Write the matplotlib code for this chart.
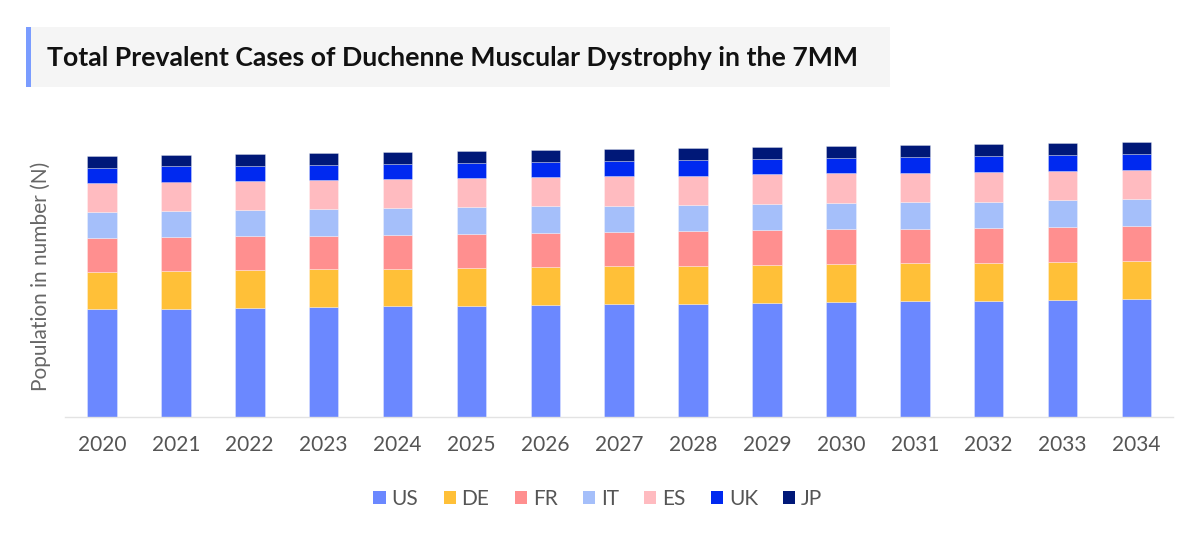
import matplotlib
matplotlib.use("Agg")
import matplotlib.pyplot as plt
from matplotlib.patches import Rectangle, Patch
import numpy as np

plt.rcParams['font.family'] = ['Lato', 'DejaVu Sans']

years = [str(y) for y in range(2020, 2035)]
countries = ["US", "DE", "FR", "IT", "ES", "UK", "JP"]

US = [10750, 10800, 10880, 10920, 11020, 11080, 11150, 11220, 11280, 11380, 11480, 11520, 11580, 11650, 11720]
DE = [3730, 3800, 3770, 3800, 3760, 3800, 3800, 3800, 3800, 3800, 3800, 3830, 3800, 3830, 3830]
FR = [3400, 3370, 3370, 3360, 3370, 3370, 3400, 3430, 3470, 3440, 3440, 3400, 3470, 3440, 3500]
IT = [2600, 2600, 2630, 2640, 2670, 2670, 2670, 2630, 2630, 2660, 2660, 2700, 2630, 2700, 2670]
ES = [2870, 2930, 2900, 2900, 2930, 2900, 2930, 2940, 2900, 2940, 2940, 2930, 3000, 2960, 2960]
UK = [1530, 1530, 1530, 1530, 1530, 1560, 1530, 1530, 1570, 1560, 1560, 1600, 1570, 1600, 1600]
JP = [1170, 1170, 1170, 1170, 1170, 1170, 1200, 1200, 1200, 1200, 1200, 1170, 1200, 1200, 1200]

series = [US, DE, FR, IT, ES, UK, JP]
colors = ["#6B88FF", "#FFC038", "#FF8F8F", "#A5BFFA", "#FFBBC0", "#0029F0", "#001878"]

W, H = 1200, 542
fig = plt.figure(figsize=(W / 100, H / 100), dpi=100)

# Title box
fig.patches.append(Rectangle((27 / W, 1 - 87 / H), (890 - 27) / W, 60 / H,
                             transform=fig.transFigure, facecolor="#F5F5F5", edgecolor="none", zorder=0))
fig.patches.append(Rectangle((26 / W, 1 - 87 / H), 5 / W, 60 / H,
                             transform=fig.transFigure, facecolor="#7A9CFF", edgecolor="none", zorder=1))
fig.text(47 / W, 1 - 58 / H, "Total Prevalent Cases of Duchenne Muscular Dystrophy in the 7MM",
         fontsize=19.2, fontweight="bold", color="#111111", va="center", ha="left")

base_px = 416.5
top_px = 110
ax = fig.add_axes([65 / W, 1 - base_px / H, (1173.4 - 65) / W, (base_px - top_px) / H])

x = np.arange(len(years))
bottom = np.zeros(len(years))
for name, vals, c in zip(countries, series, colors):
    ax.bar(x, vals, width=0.4, bottom=bottom, color=c, label=name,
           edgecolor=(1, 1, 1, 0.35), linewidth=0.6)
    bottom += np.array(vals)

ax.set_xlim(-0.5, len(years) - 0.5)
ax.set_ylim(0, (base_px - top_px) * 100)
ax.set_xticks(x)
ax.set_xticklabels(years, fontsize=15, color="#555555")
ax.tick_params(axis="x", length=0, pad=13)
ax.set_yticks([])
for s in ["top", "right", "left"]:
    ax.spines[s].set_visible(False)
ax.spines["bottom"].set_color("#E3E3E3")
ax.spines["bottom"].set_linewidth(1)

fig.text(41 / W, 1 - 276 / H, "Population in number (N)", rotation=90, fontsize=15,
         color="#666666", ha="center", va="center")

handles = [Patch(facecolor=c, edgecolor="none") for c in colors]
leg = fig.legend(handles, countries, loc="center", bbox_to_anchor=(598 / W, 1 - 499 / H),
                 ncol=7, frameon=False, fontsize=15, handlelength=0.58, handleheight=0.58,
                 handletextpad=0.28, columnspacing=1.22, borderaxespad=0)
for t in leg.get_texts():
    t.set_color("#555555")

fig.savefig("out.png", dpi=100)
